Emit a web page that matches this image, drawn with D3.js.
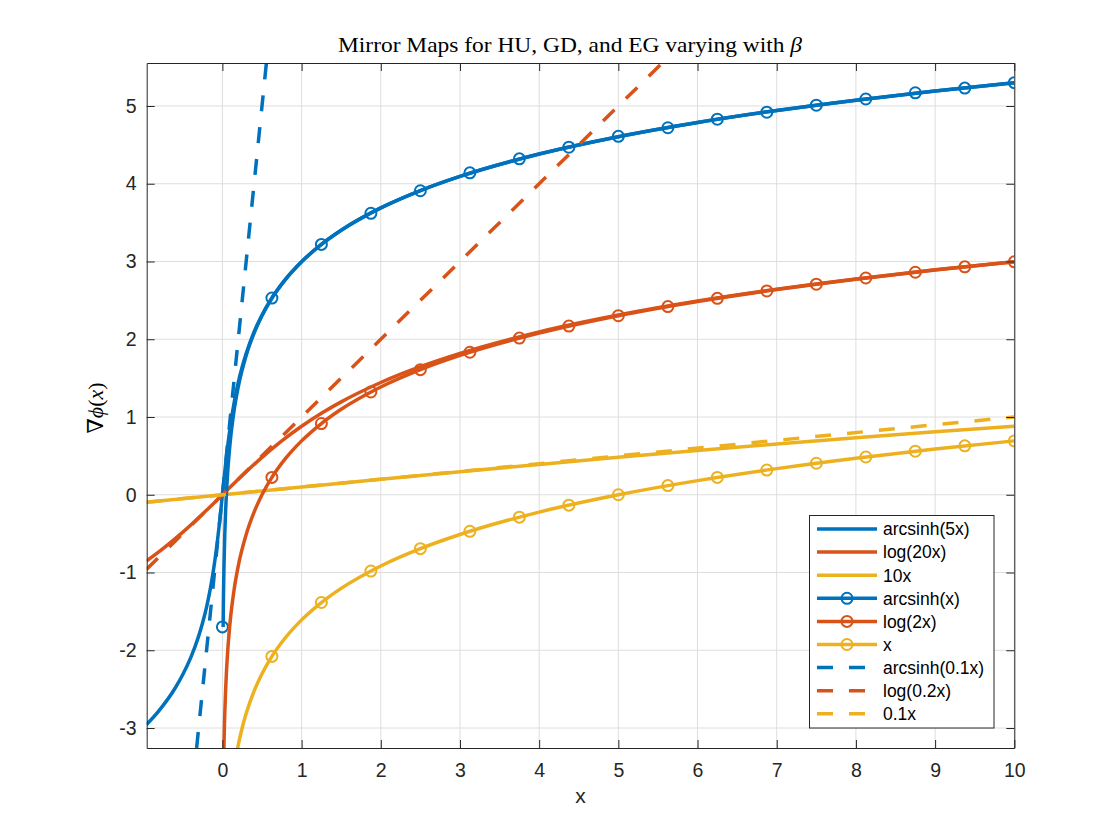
<!DOCTYPE html>
<html>
<head>
<meta charset="utf-8">
<script src="https://cdn.jsdelivr.net/npm/d3@7"></script>
<style>
  html, body { margin: 0; padding: 0; background: #fff; }
  svg { display: block; }
</style>
</head>
<body>
<svg id="chart" width="1120" height="840"></svg>
<script>
// ---------------- DATA ----------------
const xTicks = [0, 1, 2, 3, 4, 5, 6, 7, 8, 9, 10];
const yTicks = [-3, -2, -1, 0, 1, 2, 3, 4, 5];

// solid blue  ("arcsinh(5x)" in legend)
const blueSolidX = [-0.96,-0.8,-0.6,-0.5,-0.4,-0.3,-0.25,-0.2,-0.15,-0.1,-0.06,-0.04,-0.03,-0.02,-0.01,0,0.01,0.02,0.03,0.04,0.06,0.1,0.15,0.2,0.25,0.3,0.4,0.5,0.6,0.8,1,1.25,1.5,2,2.5,3,4,5,6,7,8,9,10];
const blueSolidY = [-2.958,-2.776,-2.492,-2.312,-2.095,-1.818,-1.647,-1.444,-1.195,-0.881,-0.569,-0.390,-0.296,-0.199,-0.100,0,0.100,0.199,0.296,0.390,0.569,0.881,1.195,1.444,1.647,1.818,2.095,2.312,2.492,2.776,2.998,3.220,3.402,3.689,3.912,4.095,4.382,4.605,4.788,4.942,5.075,5.193,5.298];

// solid orange ("log(20x)" in legend)
const orangeSolidX = [-0.96,-0.75,-0.5,-0.25,0,0.25,0.5,0.75,1,1.25,1.5,2,2.5,3,4,5,6,7,8,9,10];
const orangeSolidY = [-0.853,-0.693,-0.481,-0.247,0,0.247,0.481,0.693,0.881,1.048,1.195,1.444,1.647,1.818,2.095,2.312,2.492,2.644,2.776,2.893,2.998];

// solid yellow ("10x" in legend)
const yellowSolidX = [-0.96,0,1,2,3,4,5,6,7,8,9,10];
const yellowSolidY = [-0.096,0,0.100,0.199,0.296,0.390,0.481,0.569,0.653,0.733,0.809,0.881];

// blue line with markers ("arcsinh(x)")
const blueMarkLineX = [0.0092,0.012,0.015,0.02,0.03,0.04,0.05,0.07,0.1,0.15,0.2,0.3,0.4,0.5,0.625,0.8,1,1.25,1.5,2,2.5,3,4,5,6,7,8,9,10];
const blueMarkLineY = [-1.700,-1.427,-1.204,-0.916,-0.511,-0.223,0,0.336,0.693,1.099,1.386,1.792,2.079,2.303,2.526,2.773,2.996,3.219,3.401,3.689,3.912,4.094,4.382,4.605,4.787,4.942,5.075,5.193,5.298];

// orange line with markers ("log(2x)")
const orangeMarkLineX = [0.018,0.02,0.025,0.03,0.04,0.05,0.07,0.1,0.15,0.2,0.3,0.4,0.5,0.625,0.8,1,1.25,1.5,2,2.5,3,4,5,6,7,8,9,10];
const orangeMarkLineY = [-3.324,-3.219,-2.996,-2.813,-2.526,-2.303,-1.966,-1.609,-1.204,-0.916,-0.511,-0.223,0,0.223,0.470,0.693,0.916,1.099,1.386,1.609,1.792,2.079,2.303,2.485,2.639,2.773,2.890,2.996];

// yellow line with markers ("x")
const yellowMarkLineX = [0.18,0.2,0.25,0.3,0.4,0.5,0.625,0.8,1,1.25,1.5,2,2.5,3,4,5,6,7,8,9,10];
const yellowMarkLineY = [-3.324,-3.219,-2.996,-2.813,-2.526,-2.303,-2.079,-1.833,-1.609,-1.386,-1.204,-0.916,-0.693,-0.511,-0.223,0,0.182,0.336,0.470,0.588,0.693];

// marker positions
const markerX = [0,0.625,1.25,1.875,2.5,3.125,3.75,4.375,5,5.625,6.25,6.875,7.5,8.125,8.75,9.375,10];
const blueMarkY   = [-1.70,2.53,3.22,3.62,3.91,4.14,4.32,4.47,4.61,4.72,4.83,4.92,5.01,5.09,5.17,5.23,5.30];
const orangeMarkY = [null,0.223,0.916,1.322,1.609,1.833,2.015,2.169,2.303,2.420,2.526,2.621,2.708,2.788,2.862,2.931,2.996];
const yellowMarkY = [null,-2.079,-1.386,-0.981,-0.693,-0.470,-0.288,-0.134,0,0.118,0.223,0.318,0.405,0.486,0.560,0.629,0.693];

// dashed straight lines
const dashX = [-0.96, 10];
const blueDashY = [-9.6, 100];
const orangeDashY = [-0.96, 10];
const yellowDashY = [-0.096, 1.0];

const legendLabels = ["arcsinh(5x)","log(20x)","10x","arcsinh(x)","log(2x)","x","arcsinh(0.1x)","log(0.2x)","0.1x"];

// ---------------- STYLE ----------------
const C_BLUE = "#0072BD", C_ORANGE = "#D95319", C_YELLOW = "#EDB120";
const AX = "#262626";
const LW = 3.5;
const DASH = "16,16";

const svg = d3.select("#chart");
const L = 146.7, R = 1014.3, T = 63, B = 748;

const x = d3.scaleLinear().domain([-0.956, 10]).range([L, R]);
const y = d3.scaleLinear().domain([-3.257, 5.553]).range([B, T]);

svg.append("rect").attr("x",0).attr("y",0).attr("width",1120).attr("height",840).attr("fill","#fff");
svg.append("rect").attr("x",L).attr("y",T).attr("width",R-L).attr("height",B-T).attr("fill","#fff");

svg.append("defs").append("clipPath").attr("id","clip")
  .append("rect").attr("x",L).attr("y",T).attr("width",R-L).attr("height",B-T);

// grid
const grid = svg.append("g");
grid.selectAll("line.gx").data(xTicks).join("line")
  .attr("x1",d=>x(d)).attr("x2",d=>x(d)).attr("y1",T).attr("y2",B)
  .attr("stroke","#dedede").attr("stroke-width",1);
grid.selectAll("line.gy").data(yTicks).join("line")
  .attr("y1",d=>y(d)).attr("y2",d=>y(d)).attr("x1",L).attr("x2",R)
  .attr("stroke","#dedede").attr("stroke-width",1);

// series
const plot = svg.append("g").attr("clip-path","url(#clip)");
const line = d3.line().x(d=>x(d[0])).y(d=>y(d[1])).curve(d3.curveMonotoneX);
const zip = (a,b) => a.map((v,i)=>[v,b[i]]);

function drawLine(xs, ys, color, dash, offset) {
  plot.append("path").datum(zip(xs,ys)).attr("d", line)
    .attr("fill","none").attr("stroke",color).attr("stroke-width",LW)
    .attr("stroke-linejoin","round")
    .attr("stroke-dasharray", dash || null)
    .attr("stroke-dashoffset", offset || null);
}
function drawMarkers(xs, ys, color) {
  plot.append("g").selectAll("circle").data(zip(xs,ys).filter(d=>d[1]!==null)).join("circle")
    .attr("cx",d=>x(d[0])).attr("cy",d=>y(d[1])).attr("r",5.5)
    .attr("fill","none").attr("stroke",color).attr("stroke-width",2);
}

drawLine(blueSolidX, blueSolidY, C_BLUE);
drawLine(orangeSolidX, orangeSolidY, C_ORANGE);
drawLine(yellowSolidX, yellowSolidY, C_YELLOW);
drawLine(blueMarkLineX, blueMarkLineY, C_BLUE); drawMarkers(markerX, blueMarkY, C_BLUE);
drawLine(orangeMarkLineX, orangeMarkLineY, C_ORANGE); drawMarkers(markerX, orangeMarkY, C_ORANGE);
drawLine(yellowMarkLineX, yellowMarkLineY, C_YELLOW); drawMarkers(markerX, yellowMarkY, C_YELLOW);
drawLine(dashX, blueDashY, C_BLUE, DASH, 16.2);
drawLine(dashX, orangeDashY, C_ORANGE, DASH);
drawLine(dashX, yellowDashY, C_YELLOW, DASH);

// axes
const fmt = d => String(d);
function styleAxis(g) {
  g.selectAll(".domain").attr("stroke",AX).attr("stroke-width",1);
  g.selectAll(".tick line").attr("stroke",AX).attr("stroke-width",1);
  g.selectAll(".tick text").attr("fill",AX)
    .style("font-family","'Liberation Sans', Arial, Helvetica, sans-serif")
    .style("font-size","19.5px");
}
svg.append("g").attr("transform",`translate(0,${B})`)
  .call(d3.axisBottom(x).tickValues(xTicks).tickFormat(fmt).tickSize(-8).tickSizeOuter(0).tickPadding(15))
  .call(styleAxis);
svg.append("g").attr("transform",`translate(0,${T})`)
  .call(d3.axisTop(x).tickValues(xTicks).tickFormat("").tickSize(-8).tickSizeOuter(0))
  .call(styleAxis);
svg.append("g").attr("transform",`translate(${L},0)`)
  .call(d3.axisLeft(y).tickValues(yTicks).tickFormat(fmt).tickSize(-8).tickSizeOuter(0).tickPadding(10))
  .call(styleAxis);
svg.append("g").attr("transform",`translate(${R},0)`)
  .call(d3.axisRight(y).tickValues(yTicks).tickFormat("").tickSize(-8).tickSizeOuter(0))
  .call(styleAxis);
svg.selectAll(".domain").attr("fill","none");

// labels
svg.append("text").attr("x",580.5).attr("y",803).attr("text-anchor","middle")
  .attr("fill",AX).style("font-family","'Liberation Sans', Arial, sans-serif").style("font-size","21px").text("x");

const yl = svg.append("text").attr("transform","translate(103,408) rotate(-90)")
  .attr("text-anchor","middle").attr("fill","#000")
  .style("font-family","'Liberation Serif', 'DejaVu Serif', serif").style("font-size","22px");
yl.append("tspan").text("∇");
yl.append("tspan").style("font-style","italic").text("ϕ");
yl.append("tspan").text("(");
yl.append("tspan").style("font-style","italic").text("x");
yl.append("tspan").text(")");

const tt = svg.append("text").attr("x",338).attr("y",52)
  .attr("fill","#000").attr("textLength",464).attr("lengthAdjust","spacingAndGlyphs")
  .style("font-family","'Liberation Serif', 'DejaVu Serif', serif").style("font-size","22px");
tt.append("tspan").text("Mirror Maps for HU, GD, and EG varying with ");
tt.append("tspan").style("font-style","italic").text("β");

// legend
const lg = svg.append("g");
lg.append("rect").attr("x",809.5).attr("y",515.5).attr("width",184.5).attr("height",212.5)
  .attr("fill","#fff").attr("stroke",AX).attr("stroke-width",1);
const legColors = [C_BLUE,C_ORANGE,C_YELLOW,C_BLUE,C_ORANGE,C_YELLOW,C_BLUE,C_ORANGE,C_YELLOW];
legendLabels.forEach((lab,i) => {
  const cy = 529 + i*23.1;
  const dashed = i >= 6, marked = i >= 3 && i < 6;
  lg.append("line").attr("x1",817).attr("x2",877).attr("y1",cy).attr("y2",cy)
    .attr("stroke",legColors[i]).attr("stroke-width",LW)
    .attr("stroke-dasharray", dashed ? DASH : null);
  if (marked) lg.append("circle").attr("cx",847).attr("cy",cy).attr("r",5.5)
    .attr("fill","none").attr("stroke",legColors[i]).attr("stroke-width",2);
  lg.append("text").attr("x",883).attr("y",cy).attr("dy","0.36em").attr("fill","#000")
    .style("font-family","'Liberation Sans', Arial, sans-serif").style("font-size","17.5px").text(lab);
});
</script>
</body>
</html>
